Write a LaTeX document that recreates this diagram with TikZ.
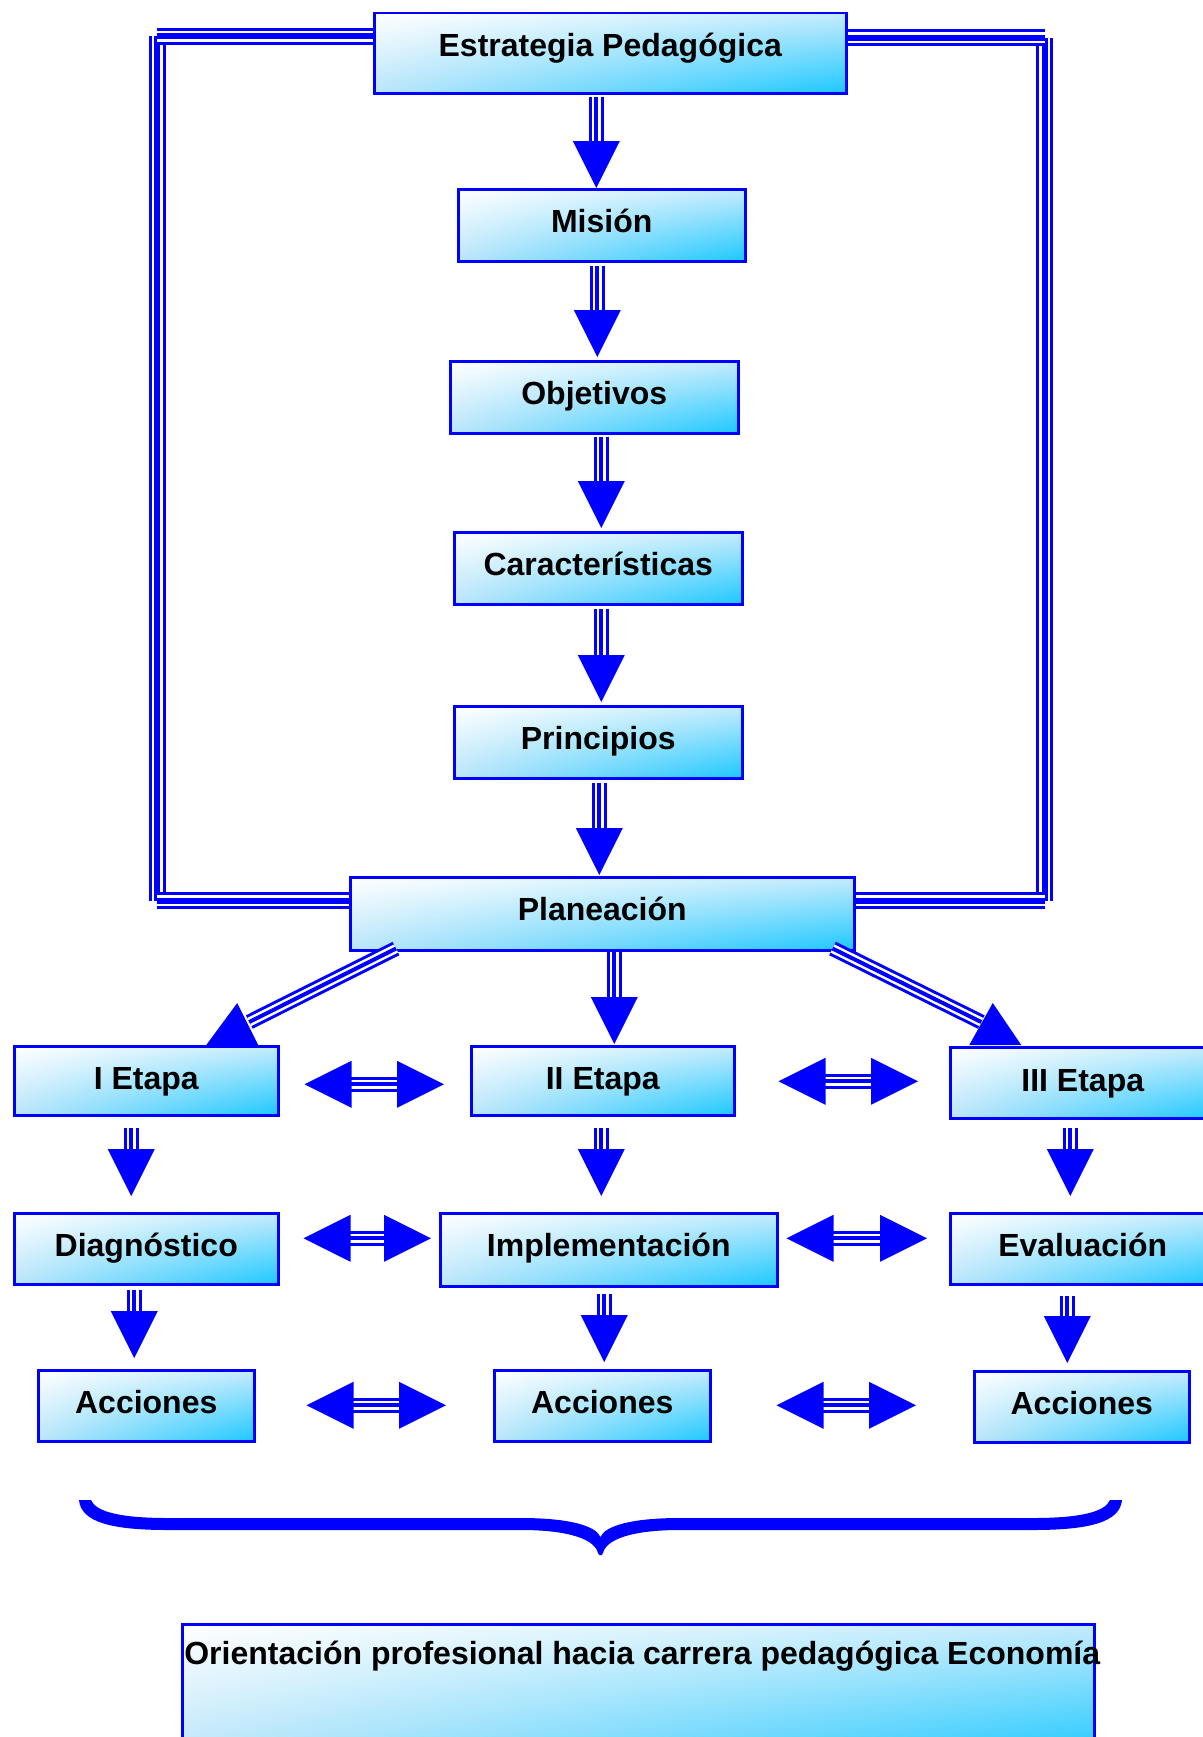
\documentclass[tikz,border=0pt]{standalone}
\usepackage{fontspec}
\setmainfont{Liberation Sans}
\usetikzlibrary{calc,backgrounds,shadings}
\definecolor{cyanB}{RGB}{28,200,255}
\definecolor{midA}{RGB}{196,235,252}
\definecolor{midC}{RGB}{186,229,250}
\definecolor{boxblue}{RGB}{0,0,255}
\tikzset{
  box/.style={draw=boxblue, line width=2.5pt, shading=bilinear interpolation, upper left=white, upper right=midA, lower left=midC, lower right=cyanB, inner sep=0pt, anchor=north west, text=black, font=\bfseries\fontsize{32}{38}\selectfont},
  triline/.style={preaction={draw=boxblue, line width=15pt}, preaction={draw=white, line width=9pt}, draw=boxblue, line width=4pt},
  frameline/.style={preaction={draw=boxblue, line width=17pt}, preaction={draw=white, line width=11pt}, draw=boxblue, line width=6pt},
  headfill/.style={fill=boxblue}
}
% vertical arrow: #1 start, #2 target node, #3 gap above target
\newcommand{\myvarrow}[3]{%
  \coordinate (vs) at #1;
  \coordinate (vt) at ($(vs |- #2.north)+(0,-#3)$);
  \coordinate (vb) at ($(vt)+(0,-47)$);
  \draw[triline] (vs) -- ($(vb)+(0,4)$);
  \fill[headfill] (vt) -- ($(vb)+(-23.5,0)$) -- ($(vb)+(23.5,0)$) -- cycle;
}
% double horizontal arrow: #1 left tip, #2 right tip
\newcommand{\myharrow}[2]{%
  \coordinate (hl) at #1;
  \coordinate (hq) at #2;
  \coordinate (hr) at (hl -| hq);
  \draw[triline] ($(hl)+(40,0)$) -- ($(hr)+(-40,0)$);
  \fill[headfill] (hl) -- ($(hl)+(47,-23.5)$) -- ($(hl)+(47,23.5)$) -- cycle;
  \fill[headfill] (hr) -- ($(hr)+(-47,-23.5)$) -- ($(hr)+(-47,23.5)$) -- cycle;
}
\begin{document}
\begin{tikzpicture}[x=1pt,y=-1pt]
\useasboundingbox (0,0) rectangle (1202,1737);

% boxes
\node[box, minimum width=472pt, text height=43.5pt, text depth=36.5pt] (est) at (373,12) {Estrategia Pedagógica};
\node[box, minimum width=287pt, text height=43pt, text depth=29pt] (mis) at (457,188) {Misión};
\node[box, minimum width=288pt, text height=43pt, text depth=29pt] (obj) at (449,360) {Objetivos};
\node[box, minimum width=288pt, text height=43pt, text depth=29pt] (car) at (453,531) {Características};
\node[box, minimum width=288pt, text height=43pt, text depth=29pt] (pri) at (453,705) {Principios};
\node[box, minimum width=504pt, text height=43pt, text depth=30pt] (plan) at (349,876) {Planeación};
\node[box, minimum width=264pt, text height=43pt, text depth=26pt] (e1) at (13,1045) {I Etapa};
\node[box, minimum width=263pt, text height=43pt, text depth=26pt] (e2) at (470,1045) {II Etapa};
\node[box, minimum width=265pt, text height=44pt, text depth=27pt] (e3) at (949,1046) {III Etapa};
\node[box, minimum width=264pt, text height=43pt, text depth=28pt] (diag) at (13,1212) {Diagnóstico};
\node[box, minimum width=337pt, text height=43pt, text depth=30pt] (impl) at (439,1212) {Implementación};
\node[box, minimum width=265pt, text height=43pt, text depth=28pt] (eval) at (949,1212) {Evaluación};
\node[box, minimum width=216pt, text height=43pt, text depth=28pt] (acc1) at (37,1369) {Acciones};
\node[box, minimum width=216pt, text height=43pt, text depth=28pt] (acc2) at (493,1369) {Acciones};
\node[box, minimum width=215pt, text height=43pt, text depth=28pt] (acc3) at (973,1370) {Acciones};
\node[box, minimum width=912pt, text height=40pt, text depth=97pt] (ori) at (181,1623) {\makebox[0pt][c]{\hspace*{8pt}Orientación profesional hacia carrera pedagógica Economía}};

% frame (behind boxes): separate butt-ended segments overlapping at the corners
\begin{scope}[on background layer]
\fill[white] (0,0) rectangle (1202,1737);
\coordinate (fl1) at (157,36.3);
\coordinate (fl2) at (157,900.5);
\coordinate (fr1) at (1044.5,38);
\coordinate (fr2) at (1044.5,900.5);
\draw[frameline] (fl1) -- (fl2);
\draw[frameline] (fr1) -- (fr2);
\draw[frameline] ($(est.north west)+(0,24.3)$) -- (fl1);
\draw[frameline] (fl2) -- ($(plan.north west)+(0,24.5)$);
\draw[frameline] ($(est.north east)+(0,26)$) -- (fr1);
\draw[frameline] (fr2) -- ($(plan.north east)+(0,24.5)$);
\end{scope}

% chain arrows
\myvarrow{($(est.south)+(-14,2)$)}{mis}{0}
\myvarrow{($(mis.south)+(-4.5,3)$)}{obj}{3}
\myvarrow{($(obj.south)+(7,2)$)}{car}{3}
\myvarrow{($(car.south)+(3,3)$)}{pri}{3}
\myvarrow{($(pri.south)+(1,3)$)}{plan}{1}
\myvarrow{($(plan.south)+(12,0)$)}{e2}{1}

% diagonal arrows from Planeación
\coordinate (dl0) at ($(plan.south west)+(47,-3)$);
\coordinate (dl1) at ($(e1.north)+(103,-23)$);
\draw[triline] (dl0) -- (dl1);
\fill[headfill] ($(e1.north)+(91,-42)$) -- ($(e1.north)+(60,0)$) -- ($(e1.north)+(112,0)$) -- cycle;
\coordinate (dr0) at ($(plan.south east)+(-23,-3)$);
\coordinate (dr1) at ($(e3.north)+(-101.5,-24)$);
\draw[triline] (dr0) -- (dr1);
\fill[headfill] ($(e3.north)+(-90,-43)$) -- ($(e3.north)+(-113.5,-1)$) -- ($(e3.north)+(-61.5,-1)$) -- cycle;

% stage arrows
\myvarrow{($(e1.south)+(-15,11)$)}{diag}{16}
\myvarrow{($(e2.south)+(-1.5,11)$)}{impl}{16}
\myvarrow{($(e3.south)+(-12.5,8)$)}{eval}{16}
\myvarrow{($(diag.south)+(-12,4)$)}{acc1}{11}
\myvarrow{($(impl.south)+(-4.5,6)$)}{acc2}{7}
\myvarrow{($(eval.south)+(-15.5,10)$)}{acc3}{7}

% double arrows
\myharrow{($(e1.east)+(25,3.5)$)}{($(e2.west)+(-26,0)$)}
\myharrow{($(e2.east)+(43,0.5)$)}{($(e3.west)+(-31,0)$)}
\myharrow{($(diag.east)+(24,-10.5)$)}{($(impl.west)+(-8,0)$)}
\myharrow{($(impl.east)+(8,-11.5)$)}{($(eval.west)+(-22,0)$)}
\myharrow{($(acc1.east)+(51,-0.5)$)}{($(acc2.west)+(-47,0)$)}
\myharrow{($(acc2.east)+(65,-0.5)$)}{($(acc3.west)+(-57,0)$)}

% brace
\fill[boxblue] (91,1500) .. controls (96,1512) and (121,1518) .. (168,1518) -- (521,1518)
  .. controls (570,1518) and (596,1526) .. (600.5,1537)
  .. controls (605,1526) and (631,1518) .. (680,1518) -- (1033,1518)
  .. controls (1080,1518) and (1105,1512) .. (1110,1500) -- (1122,1500)
  .. controls (1120,1522) and (1090,1530) .. (1033,1530) -- (680,1530)
  .. controls (630,1530) and (606,1540) .. (603,1553)
  .. controls (602,1556) and (599,1556) .. (598,1553)
  .. controls (595,1540) and (571,1530) .. (521,1530) -- (168,1530)
  .. controls (111,1530) and (81,1522) .. (79,1500) -- cycle;
\end{tikzpicture}
\end{document}
